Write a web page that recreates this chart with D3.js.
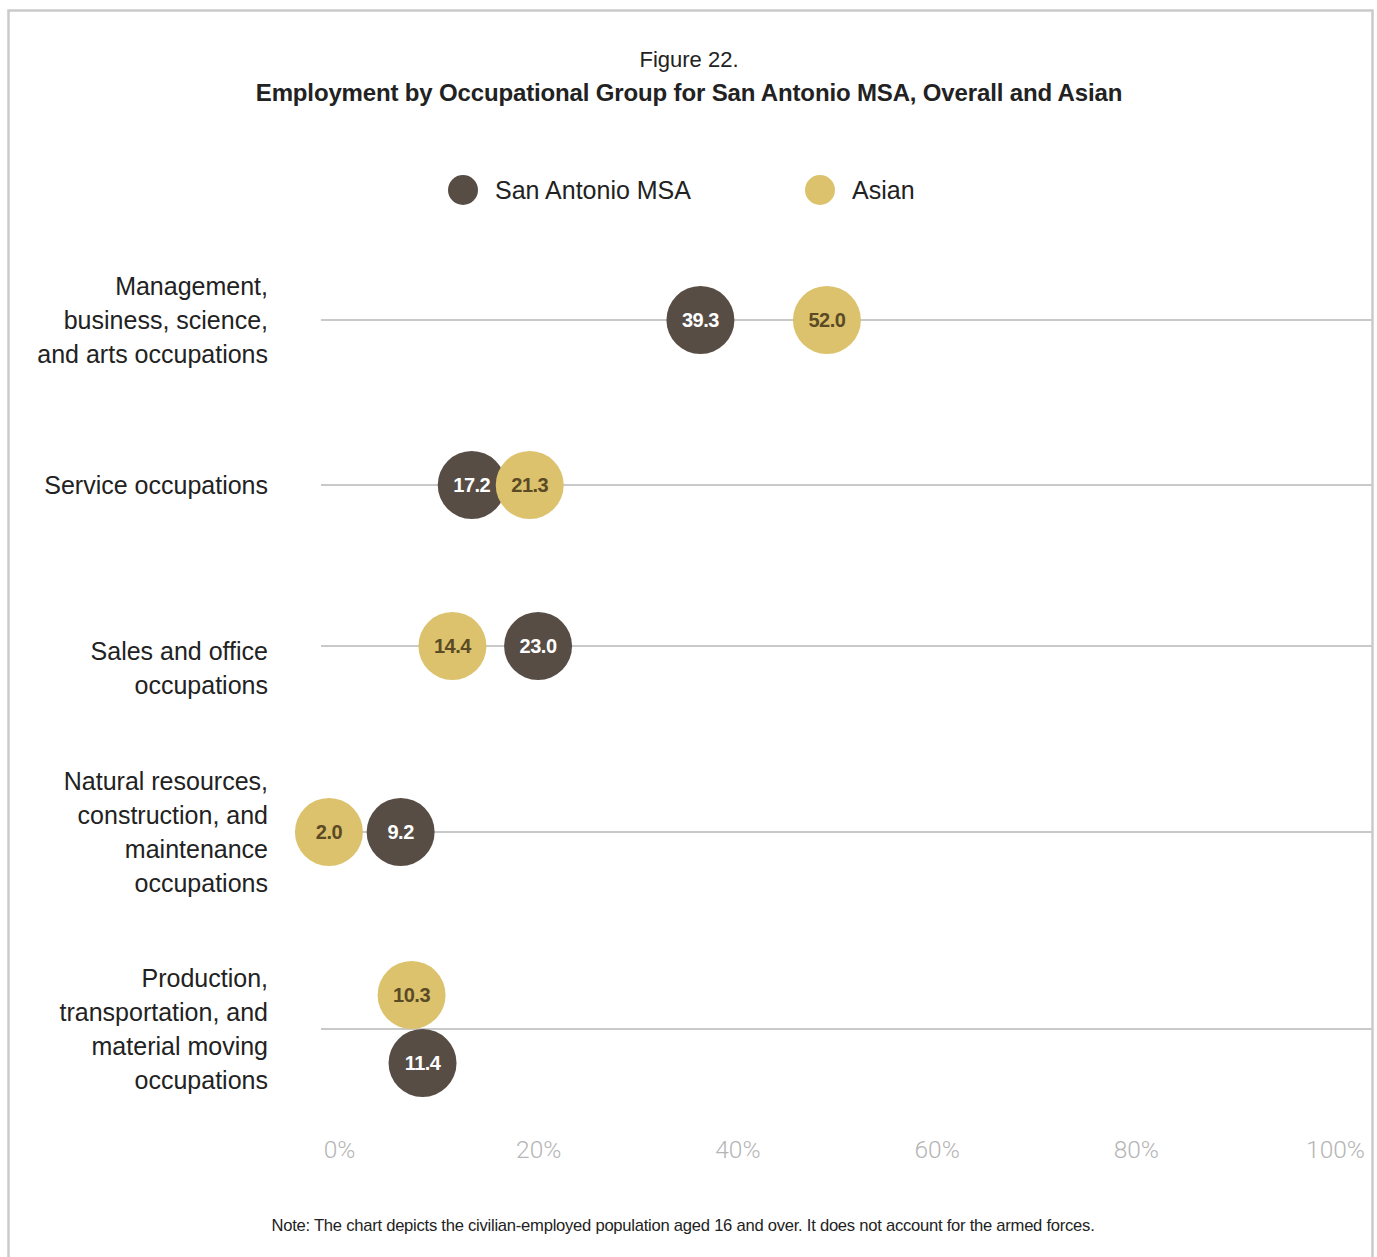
<!DOCTYPE html>
<html>
<head>
<meta charset="utf-8">
<script src="https://cdn.jsdelivr.net/npm/d3@7"></script>
<style>
  body { margin: 0; background: #fff; }
  text { font-family: 'Liberation Sans', Arial, sans-serif; }
</style>
</head>
<body>
<div class="chart"></div>
<script>
// DATA
// ----------------------------
const categories = [
  'Management, business, science, and arts occupations',
  'Service occupations',
  'Sales and office occupations',
  'Natural resources, construction, and maintenance occupations',
  'Production, transportation, and material moving occupations'
]
// how the category labels wrap
const categoryLines = [
  ['Management,', 'business, science,', 'and arts occupations'],
  ['Service occupations'],
  ['Sales and office', 'occupations'],
  ['Natural resources,', 'construction, and', 'maintenance', 'occupations'],
  ['Production,', 'transportation, and', 'material moving', 'occupations']
]
const seriesNames = ['San Antonio MSA', 'Asian']
const msaValues = [39.3, 17.2, 23.0, 9.2, 11.4]
const asianValues = [52.0, 21.3, 14.4, 2.0, 10.3]
const tickValues = [0, 20, 40, 60, 80, 100]

// SETUP
// ----------------------------
const fullWidth = 1377
const fullHeight = 1257
const colors = { msa: '#574d45', asian: '#dcc26c' }
const r = 34

const svg = d3.select('.chart')
  .append('svg')
    .attr('width', fullWidth)
    .attr('height', fullHeight)

// frame
svg.append('rect')
  .attr('x', 8.5).attr('y', 10.5)
  .attr('width', 1364).attr('height', 1300)
  .attr('fill', 'none')
  .attr('stroke', '#cacaca')
  .attr('stroke-width', 2.5)

// title
svg.append('text')
  .attr('x', 689).attr('y', 67)
  .attr('text-anchor', 'middle')
  .style('font-size', '22px')
  .style('fill', '#222')
  .text('Figure 22.')
svg.append('text')
  .attr('x', 689).attr('y', 101)
  .attr('text-anchor', 'middle')
  .style('font-size', '24px')
  .style('font-weight', 'bold')
  .style('letter-spacing', '-0.15px')
  .style('fill', '#222')
  .text('Employment by Occupational Group for San Antonio MSA, Overall and Asian')

// legend
const legend = svg.append('g')
const legendItems = [
  { name: seriesNames[0], color: colors.msa, x: 463 },
  { name: seriesNames[1], color: colors.asian, x: 820 }
]
legendItems.forEach(d => {
  legend.append('circle')
    .attr('cx', d.x).attr('cy', 190).attr('r', 15)
    .style('fill', d.color)
  legend.append('text')
    .attr('x', d.x + 32).attr('y', 199)
    .style('font-size', '25px')
    .style('fill', '#222')
    .text(d.name)
})

// SCALES
// ----------------------------
const xScale = d3.scaleLinear()
  .domain([0, 100])
  .range([309, 1305])

// rows are not evenly spaced in the original
const yScale = d3.scaleOrdinal()
  .domain(categories)
  .range([320, 485, 646, 832, 1029])

// grid lines
svg.selectAll('.row-line')
  .data(categories)
  .enter()
  .append('line')
    .attr('class', 'row-line')
    .attr('x1', 321).attr('x2', 1372)
    .attr('y1', d => yScale(d)).attr('y2', d => yScale(d))
    .style('stroke', '#c9c9c9')
    .style('stroke-width', 2)

// category labels
const lineH = 34
categories.forEach((c, i) => {
  const lines = categoryLines[i]
  // sales label sits a little lower than its row
  const shift = i === 2 ? 22 : 0
  const top = yScale(c) + shift - (lines.length - 1) * lineH / 2
  const t = svg.append('text')
    .attr('text-anchor', 'end')
    .style('font-size', '25px')
    .style('fill', '#222')
  lines.forEach((l, j) => {
    t.append('tspan')
      .attr('x', 268)
      .attr('y', top + j * lineH + 9)
      .text(l)
  })
})

// x axis labels
const xAxis = d3.axisBottom(xScale)
  .tickValues(tickValues)
  .tickFormat(d => d + '%')
  .tickSize(0)
  .tickPadding(0)
const axisG = svg.append('g')
  .attr('transform', 'translate(30, 1141)')
  .call(xAxis)
axisG.select('.domain').remove()
axisG.selectAll('text')
  .style('font-family', 'Roboto, sans-serif')
  .style('font-weight', 300)
  .style('font-size', '24.5px')
  .style('fill', '#b5b5b5')

// DOTS
// ----------------------------
const minGap = 58
const points = []
categories.forEach((c, i) => {
  const a = { cat: c, value: msaValues[i], series: 'msa', x: xScale(msaValues[i]), dy: 0 }
  const b = { cat: c, value: asianValues[i], series: 'asian', x: xScale(asianValues[i]), dy: 0 }
  const dx = Math.abs(a.x - b.x)
  if (dx < r) {
    // nearly the same spot: stack them, Asian on top
    b.dy = -r; a.dy = r
  } else if (dx < minGap) {
    // close: spread them apart around their midpoint
    const mid = (a.x + b.x) / 2
    const s = a.x < b.x ? -1 : 1
    a.x = mid + s * minGap / 2
    b.x = mid - s * minGap / 2
  }
  points.push(a, b)
})

const dots = svg.selectAll('.dot')
  .data(points)
  .enter()
  .append('g')
  .attr('class', 'dot')
  .attr('transform', d => `translate(${d.x}, ${yScale(d.cat) + d.dy})`)

dots.append('circle')
  .attr('r', r)
  .style('fill', d => colors[d.series])

dots.append('text')
  .attr('text-anchor', 'middle')
  .attr('y', 7)
  .style('font-size', '20px')
  .style('font-weight', 'bold')
  .style('letter-spacing', '-0.5px')
  .style('fill', d => d.series === 'msa' ? '#fff' : '#5a4a26')
  .text(d => d.value.toFixed(1))

// note
svg.append('text')
  .attr('x', 683).attr('y', 1231)
  .attr('text-anchor', 'middle')
  .style('font-size', '16.6px')
  .style('letter-spacing', '-0.25px')
  .style('fill', '#222')
  .text('Note: The chart depicts the civilian-employed population aged 16 and over. It does not account for the armed forces.')
</script>
</body>
</html>
